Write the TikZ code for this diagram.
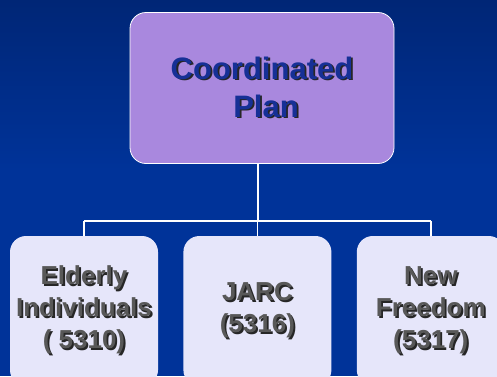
\documentclass[tikz,border=0pt]{standalone}
\usepackage{fontspec}
\setmainfont{Liberation Sans}
\usetikzlibrary{positioning}

\definecolor{bgtop}{RGB}{0,38,118}
\definecolor{bgbot}{RGB}{0,51,153}
\definecolor{planfill}{RGB}{169,136,222}
\definecolor{planink}{RGB}{22,48,150}
\definecolor{progfill}{RGB}{230,230,250}
\definecolor{progink}{RGB}{88,88,88}

% text with a small drop shadow
\newcommand{\shtext}[2]{\rlap{\kern1.8pt\raisebox{-1.8pt}{\color{black!85}#2}}{\color{#1}#2}}

\begin{document}
\begin{tikzpicture}[x=1pt,y=-1pt,
    planbox/.style={draw=white, line width=0.8pt, fill=planfill, rounded corners=16pt,
      minimum width=264pt, minimum height=151pt, inner sep=2pt, align=center,
      font=\bfseries\fontsize{31}{38}\selectfont},
    progbox/.style={fill=progfill, rounded corners=16pt, minimum width=148pt,
      minimum height=150pt, inner sep=2pt, align=center,
      font=\bfseries\fontsize{26}{32}\selectfont},
    link/.style={draw=white, line width=1.8pt}]
  \useasboundingbox (0,0) rectangle (497,376);
  \clip (0,0) rectangle (497,376);
  \fill[bgbot] (0,0) rectangle (497,376);
  \shade[top color=bgtop, bottom color=bgbot] (0,0) rectangle (497,170);

  \node[planbox] (plan) at (262,88) {\shtext{planink}{Coordinated}\\ \hspace*{8pt}\shtext{planink}{Plan}};

  \node[progbox] (elderly) at (84,311)
    {\shtext{progink}{Elderly}\\ \shtext{progink}{Individuals}\\ \shtext{progink}{( 5310)}};
  \node[progbox, right=25pt of elderly] (jarc) {\shtext{progink}{JARC}\\ \shtext{progink}{(5316)}};
  \node[progbox, right=25pt of jarc] (freedom)
    {\shtext{progink}{New}\\ \shtext{progink}{Freedom}\\ \shtext{progink}{(5317)}};

  \coordinate (hub) at (258,221);
  \draw[link] (plan.south -| hub) -- (hub);
  \draw[link] (elderly.north |- hub) -- (freedom.north |- hub);
  \foreach \n in {elderly,jarc,freedom}
    \draw[link] (\n.north |- hub) -- (\n.north);
\end{tikzpicture}
\end{document}
